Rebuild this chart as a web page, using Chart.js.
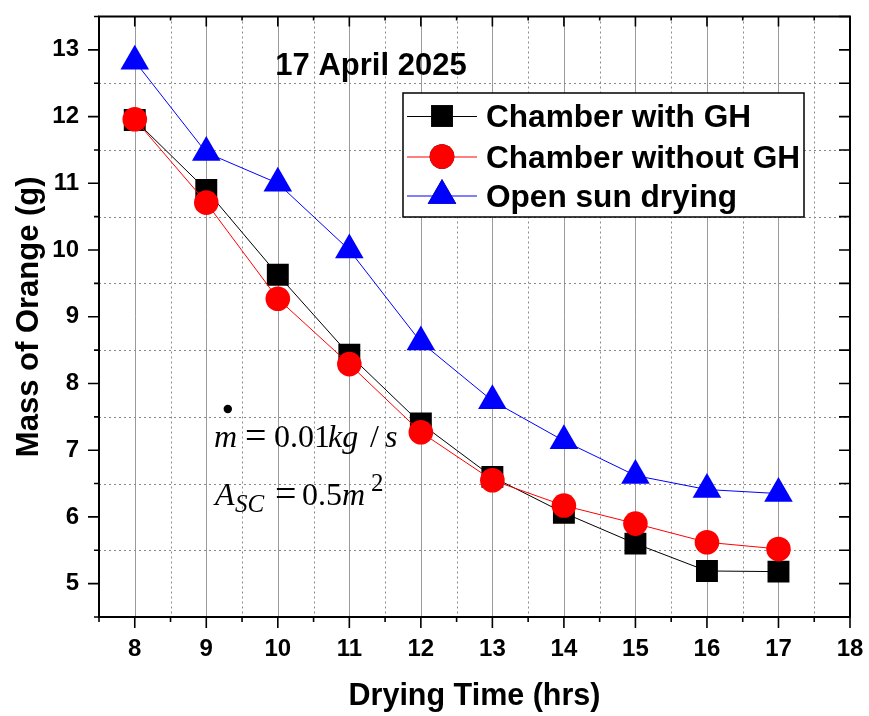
<!DOCTYPE html>
<html><head><meta charset="utf-8">
<script src="https://cdn.jsdelivr.net/npm/chart.js@4.4.1/dist/chart.umd.min.js"></script>
<style>html,body{margin:0;padding:0;background:#fff;}#wrap{width:869px;height:716px;}</style>
</head><body><div id="wrap"><canvas id="c" width="869" height="716"></canvas></div>
<script>
const hours = [8, 9, 10, 11, 12, 13, 14, 15, 16, 17];
const withGH = [11.95, 10.9, 9.63, 8.43, 7.4, 6.6, 6.06, 5.6, 5.19, 5.18];
const withoutGH = [11.96, 10.71, 9.27, 8.29, 7.27, 6.55, 6.17, 5.9, 5.62, 5.52];
const openSun = [12.83, 11.46, 11.0, 10.0, 8.62, 7.74, 7.14, 6.62, 6.41, 6.35];
const seriesNames = ['Chamber with GH', 'Chamber without GH', 'Open sun drying'];
const xTickValues = [8, 9, 10, 11, 12, 13, 14, 15, 16, 17, 18];
const yTickValues = [5, 6, 7, 8, 9, 10, 11, 12, 13];
const chartTitle = '17 April 2025';
const xTitle = 'Drying Time (hrs)';
const yTitle = 'Mass of Orange (g)';

const SANS = '"Liberation Sans", Arial, sans-serif';
const SERIF = '"Liberation Serif", "Times New Roman", serif';

function pts(arr){ return hours.map((h,i)=>({x:h, y:arr[i]})); }

const styles = [
  {color:'#000000', pointStyle:'rect', radius:15.5, order:3},
  {color:'#ff0000', pointStyle:'circle', radius:12.3, order:2},
  {color:'#0000ff', pointStyle:'triangle', radius:16.5, order:1}
];
const seriesData = [withGH, withoutGH, openSun];

const datasets = seriesData.map((arr, i) => ({
  label: seriesNames[i],
  data: pts(arr),
  borderColor: styles[i].color,
  backgroundColor: styles[i].color,
  borderWidth: 1,
  pointStyle: styles[i].pointStyle,
  pointRadius: styles[i].radius,
  pointHoverRadius: styles[i].radius,
  pointBorderWidth: 0,
  pointBackgroundColor: styles[i].color,
  tension: 0,
  fill: false,
  order: styles[i].order
}));

const gridPlugin = {
  id: 'gridPlugin',
  beforeDatasetsDraw(chart) {
    const {ctx, chartArea: a, scales: {x, y}} = chart;
    ctx.save();
    ctx.lineWidth = 1;
    ctx.strokeStyle = '#9a9a9a';
    ctx.setLineDash([]);
    for (let v = 8; v <= 17; v++) {
      const px = Math.round(x.getPixelForValue(v)) + 0.5;
      ctx.beginPath(); ctx.moveTo(px, a.top); ctx.lineTo(px, a.bottom); ctx.stroke();
    }
    ctx.strokeStyle = '#8a8a8a';
    ctx.setLineDash([2, 3]);
    for (let v = 8.5; v <= 17.5; v++) {
      const px = Math.round(x.getPixelForValue(v)) + 0.5;
      ctx.beginPath(); ctx.moveTo(px, a.top); ctx.lineTo(px, a.bottom); ctx.stroke();
    }
    for (let v = 5.5; v <= 12.5; v++) {
      const py = Math.round(y.getPixelForValue(v)) + 0.5;
      ctx.beginPath(); ctx.moveTo(a.left, py); ctx.lineTo(a.right, py); ctx.stroke();
    }
    ctx.restore();
  },
  afterDatasetsDraw(chart) {
    const {ctx, chartArea: a, scales: {x, y}} = chart;
    ctx.save();
    ctx.strokeStyle = '#000';
    ctx.lineWidth = 2;
    ctx.setLineDash([]);
    ctx.strokeRect(a.left, a.top, a.right - a.left, a.bottom - a.top);
    ctx.lineWidth = 1.6;
    ctx.beginPath();
    for (let v = 7.5; v <= 18.01; v += 0.5) {
      const px = x.getPixelForValue(v);
      const major = Math.abs(v - Math.round(v)) < 1e-6;
      ctx.moveTo(px, a.bottom); ctx.lineTo(px, a.bottom + (major ? 11 : 5));
      ctx.moveTo(px, a.top); ctx.lineTo(px, a.top + (major ? 10 : 4));
    }
    for (let v = 4.5; v <= 13.51; v += 0.5) {
      const py = y.getPixelForValue(v);
      const major = Math.abs(v - Math.round(v)) < 1e-6;
      ctx.moveTo(a.left, py); ctx.lineTo(a.left - (major ? 11 : 5), py);
      ctx.moveTo(a.right, py); ctx.lineTo(a.right - 11, py);
    }
    ctx.stroke();
    ctx.restore();
  },
  afterDraw(chart) {
    const {ctx} = chart;
    ctx.save();
    ctx.fillStyle = '#000';
    ctx.font = 'bold 31px ' + SANS;
    ctx.textAlign = 'center';
    ctx.textBaseline = 'alphabetic';
    ctx.fillText(chartTitle, 371, 75);

    // legend
    const lx = 403, ly = 93, lw = 401, lh = 124;
    ctx.fillStyle = '#fff';
    ctx.fillRect(lx, ly, lw, lh);
    ctx.strokeStyle = '#000';
    ctx.lineWidth = 1.5;
    ctx.strokeRect(lx, ly, lw, lh);
    const rows = [116, 156.5, 195.5];
    chart.data.datasets.forEach((ds, i) => {
      const ry = rows[i];
      ctx.strokeStyle = ds.borderColor;
      ctx.lineWidth = 1;
      ctx.beginPath(); ctx.moveTo(407, ry + 0.5); ctx.lineTo(477, ry + 0.5); ctx.stroke();
      Chart.helpers.drawPoint(ctx, {pointStyle: ds.pointStyle, radius: ds.pointRadius, rotation: 0, borderWidth: 0}, 442, ry);
      ctx.fillStyle = ds.pointBackgroundColor;
      ctx.fill();
      ctx.fillStyle = '#000';
      ctx.font = 'bold 31.6px ' + SANS;
      ctx.textAlign = 'left';
      ctx.textBaseline = 'alphabetic';
      ctx.fillText(ds.label, 486, ry + 11);
    });

    // annotation
    ctx.fillStyle = '#000';
    ctx.textAlign = 'left';
    ctx.textBaseline = 'alphabetic';
    ctx.beginPath(); ctx.arc(227.8, 409, 4.2, 0, Math.PI * 2); ctx.fill();
    const seg = (t, xx, yy, f) => { ctx.font = f; ctx.fillText(t, xx, yy); };
    const it = 'italic 32px ' + SERIF, up = '32px ' + SERIF, eq = '38px ' + SERIF;
    const sub = 'italic 25px ' + SERIF, sup = '25px ' + SERIF;
    seg('m', 214, 447, it);
    seg('=', 245, 448, eq);
    seg('0.01', 274, 447, up);
    seg('kg', 328, 447, it);
    seg('/', 370, 447, up);
    seg('s', 385, 447, it);
    seg('A', 215, 505, it);
    seg('SC', 235, 512, sub);
    seg('=', 275, 506, eq);
    seg('0.5', 302, 505, up);
    seg('m', 342, 505, it);
    seg('2', 371, 491, sup);
    ctx.restore();
  }
};

const fixPad = s => { s.paddingLeft = 0; s.paddingRight = 0; s.paddingTop = 0; s.paddingBottom = 0; };

new Chart(document.getElementById('c'), {
  type: 'line',
  data: { datasets },
  options: {
    responsive: false,
    devicePixelRatio: 1,
    animation: false,
    events: [],
    layout: { padding: { top: 12, right: 19, left: 0, bottom: 0 } },
    plugins: { legend: { display: false }, tooltip: { enabled: false }, title: { display: false } },
    scales: {
      x: {
        type: 'linear', min: 7.5, max: 18,
        afterFit: s => { s.height = 99; fixPad(s); },
        afterBuildTicks: s => { s.ticks = xTickValues.map(v => ({value: v})); },
        ticks: { font: { family: SANS, size: 24, weight: 'bold' }, color: '#000', padding: 18, maxRotation: 0, autoSkip: false },
        grid: { display: false, drawTicks: false },
        border: { display: false },
        title: { display: true, text: xTitle, color: '#000', font: { family: SANS, size: 30.5, weight: 'bold' }, padding: { top: 0, bottom: 1 } }
      },
      y: {
        type: 'linear', min: 4.5, max: 13.5,
        afterFit: s => { s.width = 99; fixPad(s); },
        afterBuildTicks: s => { s.ticks = yTickValues.map(v => ({value: v})); },
        ticks: { font: { family: SANS, size: 24, weight: 'bold' }, color: '#000', padding: 20, autoSkip: false },
        grid: { display: false, drawTicks: false },
        border: { display: false },
        title: { display: true, text: yTitle, color: '#000', font: { family: SANS, size: 31, weight: 'bold' }, padding: { top: 11, bottom: 0 } }
      }
    }
  },
  plugins: [gridPlugin]
});
</script></body></html>
